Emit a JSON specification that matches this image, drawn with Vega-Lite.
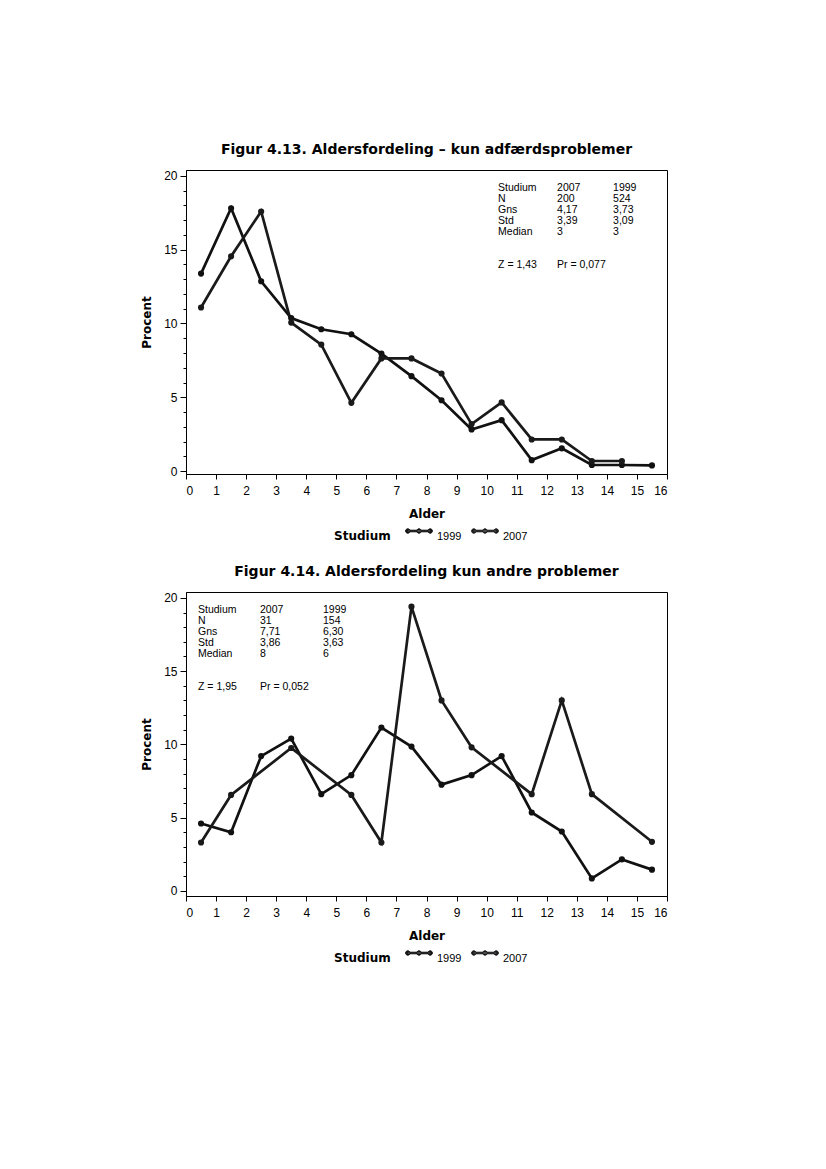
{
  "$schema": "https://vega.github.io/schema/vega-lite/v6.json",
  "autosize": "pad",
  "padding": {"left": 140, "top": 142, "right": 5, "bottom": 5},
  "background": "white",
  "datasets": {
    "top": [
      {"alder": 0.5, "studium": "1999", "procent": 13.38},
      {"alder": 1.5, "studium": "1999", "procent": 17.81},
      {"alder": 2.5, "studium": "1999", "procent": 12.86},
      {"alder": 3.5, "studium": "1999", "procent": 10.37},
      {"alder": 4.5, "studium": "1999", "procent": 9.61},
      {"alder": 5.5, "studium": "1999", "procent": 9.27},
      {"alder": 6.5, "studium": "1999", "procent": 7.96},
      {"alder": 7.5, "studium": "1999", "procent": 6.43},
      {"alder": 8.5, "studium": "1999", "procent": 4.8},
      {"alder": 9.5, "studium": "1999", "procent": 2.82},
      {"alder": 10.5, "studium": "1999", "procent": 3.45},
      {"alder": 11.5, "studium": "1999", "procent": 0.74},
      {"alder": 12.5, "studium": "1999", "procent": 1.54},
      {"alder": 13.5, "studium": "1999", "procent": 0.41},
      {"alder": 14.5, "studium": "1999", "procent": 0.41},
      {"alder": 15.5, "studium": "1999", "procent": 0.38},
      {"alder": 0.5, "studium": "2007", "procent": 11.08},
      {"alder": 1.5, "studium": "2007", "procent": 14.55},
      {"alder": 2.5, "studium": "2007", "procent": 17.59},
      {"alder": 3.5, "studium": "2007", "procent": 10.06},
      {"alder": 4.5, "studium": "2007", "procent": 8.57},
      {"alder": 5.5, "studium": "2007", "procent": 4.62},
      {"alder": 6.5, "studium": "2007", "procent": 7.63},
      {"alder": 7.5, "studium": "2007", "procent": 7.63},
      {"alder": 8.5, "studium": "2007", "procent": 6.61},
      {"alder": 9.5, "studium": "2007", "procent": 3.18},
      {"alder": 10.5, "studium": "2007", "procent": 4.65},
      {"alder": 11.5, "studium": "2007", "procent": 2.14},
      {"alder": 12.5, "studium": "2007", "procent": 2.14},
      {"alder": 13.5, "studium": "2007", "procent": 0.68},
      {"alder": 14.5, "studium": "2007", "procent": 0.68}
    ],
    "bottom": [
      {"alder": 0.5, "studium": "1999", "procent": 4.6},
      {"alder": 1.5, "studium": "1999", "procent": 4.0},
      {"alder": 2.5, "studium": "1999", "procent": 9.2},
      {"alder": 3.5, "studium": "1999", "procent": 10.4},
      {"alder": 4.5, "studium": "1999", "procent": 6.6},
      {"alder": 5.5, "studium": "1999", "procent": 7.9},
      {"alder": 6.5, "studium": "1999", "procent": 11.15},
      {"alder": 7.5, "studium": "1999", "procent": 9.85},
      {"alder": 8.5, "studium": "1999", "procent": 7.25},
      {"alder": 9.5, "studium": "1999", "procent": 7.9},
      {"alder": 10.5, "studium": "1999", "procent": 9.2},
      {"alder": 11.5, "studium": "1999", "procent": 5.35},
      {"alder": 12.5, "studium": "1999", "procent": 4.05},
      {"alder": 13.5, "studium": "1999", "procent": 0.85},
      {"alder": 14.5, "studium": "1999", "procent": 2.15},
      {"alder": 15.5, "studium": "1999", "procent": 1.45},
      {"alder": 0.5, "studium": "2007", "procent": 3.3},
      {"alder": 1.5, "studium": "2007", "procent": 6.55},
      {"alder": 3.5, "studium": "2007", "procent": 9.75},
      {"alder": 5.5, "studium": "2007", "procent": 6.55},
      {"alder": 6.5, "studium": "2007", "procent": 3.3},
      {"alder": 7.5, "studium": "2007", "procent": 19.4},
      {"alder": 8.5, "studium": "2007", "procent": 13.0},
      {"alder": 9.5, "studium": "2007", "procent": 9.8},
      {"alder": 11.5, "studium": "2007", "procent": 6.6},
      {"alder": 12.5, "studium": "2007", "procent": 13.0},
      {"alder": 13.5, "studium": "2007", "procent": 6.6},
      {"alder": 15.5, "studium": "2007", "procent": 3.35}
    ],
    "one": [{"k": 1}]
  },
  "spacing": 21,
  "resolve": {"legend": {"color": "independent"}},
  "vconcat": [
    {
      "title": {"text": "Figur 4.13. Aldersfordeling – kun adfærdsproblemer"},
      "width": 481,
      "height": 304,
      "layer": [
        {
          "data": {"name": "top"},
          "mark": {"type": "line", "strokeWidth": 2.7, "point": {"filled": true, "size": 38}},
          "encoding": {
            "x": {"field": "alder", "type": "quantitative", "scale": {"domain": [0, 16], "nice": false, "zero": false},
                  "axis": {"title": "Alder", "values": [0,1,2,3,4,5,6,7,8,9,10,11,12,13,14,15,16], "tickSize": 5, "labelPadding": 6, "titlePadding": 12, "labelAngle": 0, "labelOverlap": false}},
            "y": {"field": "procent", "type": "quantitative", "scale": {"domain": [-0.2, 20.4], "nice": false, "zero": false},
                  "axis": {"title": "Procent", "values": [0,1,2,3,4,5,6,7,8,9,10,11,12,13,14,15,16,17,18,19,20], "labelExpr": "datum.value % 5 === 0 ? datum.label : ''", "labelOverlap": false,
                           "tickSize": {"condition": {"test": "datum.value % 5 === 0", "value": 6}, "value": 3}, "labelPadding": 3, "titlePadding": 10}},
            "color": {"field": "studium", "type": "nominal", "scale": {"domain": ["1999", "2007"], "range": ["#111111", "#1a1a1a"]},
                      "legend": {"title": "Studium", "orient": "none", "legendX": 148, "legendY": 349}}
          }
        },
        {
          "data": {"name": "one"},
          "encoding": {
            "x": {"datum": 10.38, "type": "quantitative", "scale": {"domain": [0, 16], "nice": false, "zero": false},
                  "axis": {"title": "Alder", "values": [0,1,2,3,4,5,6,7,8,9,10,11,12,13,14,15,16], "tickSize": 5, "labelPadding": 6, "titlePadding": 12, "labelAngle": 0, "labelOverlap": false}},
            "y": {"datum": 19.55, "type": "quantitative", "scale": {"domain": [-0.2, 20.4], "nice": false, "zero": false},
                  "axis": {"title": "Procent", "values": [0,1,2,3,4,5,6,7,8,9,10,11,12,13,14,15,16,17,18,19,20], "labelExpr": "datum.value % 5 === 0 ? datum.label : ''", "labelOverlap": false,
                           "tickSize": {"condition": {"test": "datum.value % 5 === 0", "value": 6}, "value": 3}, "labelPadding": 3, "titlePadding": 10}}
          },
          "layer": [
            {"mark": {"type": "text", "align": "left", "baseline": "top", "fontSize": 10.5, "lineHeight": 11, "font": "Liberation Sans"},
             "encoding": {"text": {"value": ["Studium", "N", "Gns", "Std", "Median"]}}},
            {"mark": {"type": "text", "align": "left", "baseline": "top", "fontSize": 10.5, "lineHeight": 11, "font": "Liberation Sans", "dx": 59},
             "encoding": {"text": {"value": ["2007", "200", "4,17", "3,39", "3"]}}},
            {"mark": {"type": "text", "align": "left", "baseline": "top", "fontSize": 10.5, "lineHeight": 11, "font": "Liberation Sans", "dx": 115},
             "encoding": {"text": {"value": ["1999", "524", "3,73", "3,09", "3"]}}},
            {"mark": {"type": "text", "align": "left", "baseline": "top", "fontSize": 10.5, "font": "Liberation Sans", "dy": 77},
             "encoding": {"text": {"value": "Z =  1,43"}}},
            {"mark": {"type": "text", "align": "left", "baseline": "top", "fontSize": 10.5, "font": "Liberation Sans", "dy": 77, "dx": 59},
             "encoding": {"text": {"value": "Pr =  0,077"}}}
          ]
        }
      ]
    },
    {
      "title": {"text": "Figur 4.14. Aldersfordeling kun andre problemer"},
      "width": 481,
      "height": 304,
      "layer": [
        {
          "data": {"name": "bottom"},
          "mark": {"type": "line", "strokeWidth": 2.7, "point": {"filled": true, "size": 38}},
          "encoding": {
            "x": {"field": "alder", "type": "quantitative", "scale": {"domain": [0, 16], "nice": false, "zero": false},
                  "axis": {"title": "Alder", "values": [0,1,2,3,4,5,6,7,8,9,10,11,12,13,14,15,16], "tickSize": 5, "labelPadding": 6, "titlePadding": 12, "labelAngle": 0, "labelOverlap": false}},
            "y": {"field": "procent", "type": "quantitative", "scale": {"domain": [-0.35, 20.4], "nice": false, "zero": false},
                  "axis": {"title": "Procent", "values": [0,1,2,3,4,5,6,7,8,9,10,11,12,13,14,15,16,17,18,19,20], "labelExpr": "datum.value % 5 === 0 ? datum.label : ''", "labelOverlap": false,
                           "tickSize": {"condition": {"test": "datum.value % 5 === 0", "value": 6}, "value": 3}, "labelPadding": 3, "titlePadding": 10}},
            "color": {"field": "studium", "type": "nominal", "scale": {"domain": ["1999", "2007"], "range": ["#111111", "#1a1a1a"]},
                      "legend": {"title": "Studium", "orient": "none", "legendX": 148, "legendY": 349}}
          }
        },
        {
          "data": {"name": "one"},
          "encoding": {
            "x": {"datum": 0.4, "type": "quantitative", "scale": {"domain": [0, 16], "nice": false, "zero": false},
                  "axis": {"title": "Alder", "values": [0,1,2,3,4,5,6,7,8,9,10,11,12,13,14,15,16], "tickSize": 5, "labelPadding": 6, "titlePadding": 12, "labelAngle": 0, "labelOverlap": false}},
            "y": {"datum": 19.5, "type": "quantitative", "scale": {"domain": [-0.35, 20.4], "nice": false, "zero": false},
                  "axis": {"title": "Procent", "values": [0,1,2,3,4,5,6,7,8,9,10,11,12,13,14,15,16,17,18,19,20], "labelExpr": "datum.value % 5 === 0 ? datum.label : ''", "labelOverlap": false,
                           "tickSize": {"condition": {"test": "datum.value % 5 === 0", "value": 6}, "value": 3}, "labelPadding": 3, "titlePadding": 10}}
          },
          "layer": [
            {"mark": {"type": "text", "align": "left", "baseline": "top", "fontSize": 10.5, "lineHeight": 11, "font": "Liberation Sans"},
             "encoding": {"text": {"value": ["Studium", "N", "Gns", "Std", "Median"]}}},
            {"mark": {"type": "text", "align": "left", "baseline": "top", "fontSize": 10.5, "lineHeight": 11, "font": "Liberation Sans", "dx": 62},
             "encoding": {"text": {"value": ["2007", "31", "7,71", "3,86", "8"]}}},
            {"mark": {"type": "text", "align": "left", "baseline": "top", "fontSize": 10.5, "lineHeight": 11, "font": "Liberation Sans", "dx": 125},
             "encoding": {"text": {"value": ["1999", "154", "6,30", "3,63", "6"]}}},
            {"mark": {"type": "text", "align": "left", "baseline": "top", "fontSize": 10.5, "font": "Liberation Sans", "dy": 77},
             "encoding": {"text": {"value": "Z =  1,95"}}},
            {"mark": {"type": "text", "align": "left", "baseline": "top", "fontSize": 10.5, "font": "Liberation Sans", "dy": 77, "dx": 62},
             "encoding": {"text": {"value": "Pr =  0,052"}}}
          ]
        }
      ]
    }
  ],
  "config": {
    "view": {"stroke": "black", "strokeWidth": 1},
    "title": {"font": "DejaVu Sans", "fontSize": 14, "fontWeight": "bold", "color": "black", "anchor": "middle", "offset": 13},
    "axis": {"labelFont": "Liberation Sans", "labelFontSize": 12, "labelColor": "black", "titleFont": "DejaVu Sans", "titleFontSize": 12, "titleFontWeight": "bold", "titleColor": "black", "domainColor": "black", "tickColor": "black", "grid": false},
    "legend": {
      "direction": "horizontal", "titleOrient": "left",
      "titleFont": "DejaVu Sans", "titleFontSize": 12, "titleFontWeight": "bold", "titleColor": "black", "titlePadding": 16, "titleBaseline": "top",
      "labelFont": "Liberation Sans", "labelFontSize": 11, "labelColor": "black", "labelOffset": 6, "labelBaseline": "top",
      "symbolType": "M-1,-0.07L1,-0.07L1,0.07L-1,0.07Z M-1.2,0 a0.2,0.2 0 1,0 0.4,0 a0.2,0.2 0 1,0 -0.4,0 Z M-0.2,0 a0.2,0.2 0 1,0 0.4,0 a0.2,0.2 0 1,0 -0.4,0 Z M0.8,0 a0.2,0.2 0 1,0 0.4,0 a0.2,0.2 0 1,0 -0.4,0 Z",
      "symbolSize": 500, "symbolFillColor": "black", "symbolStrokeColor": "black", "symbolStrokeWidth": 1,
      "columnPadding": 7
    }
  }
}
